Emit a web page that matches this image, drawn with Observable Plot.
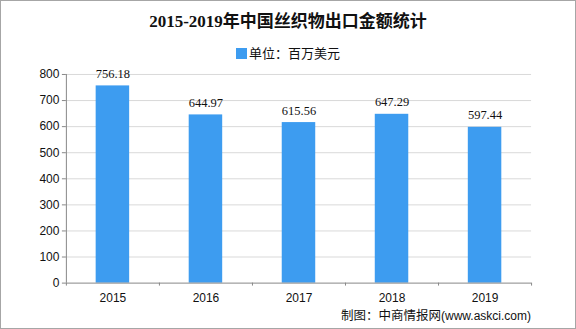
<!DOCTYPE html>
<html>
<head>
<meta charset="utf-8">
<script src="https://cdn.jsdelivr.net/npm/d3@7"></script>
<script src="https://cdn.jsdelivr.net/npm/@observablehq/plot@0.6"></script>
<style>
  html, body { margin: 0; padding: 0; background: #fff; }
  #frame { position: relative; width: 576px; height: 329px; box-sizing: border-box; border: 1px solid #a6a6a6; background: #fff; overflow: hidden; }
  #title { position: absolute; top: 6px; left: 0; width: 574px; text-align: center; font: bold 17px "Liberation Serif", "Noto Sans CJK SC", serif; color: #111; }
  #legend { position: absolute; top: 42px; left: 0; width: 574px; text-align: center; font: 13px "Noto Sans CJK SC", sans-serif; color: #111; }
  #legend .sw { display: inline-block; width: 11px; height: 11px; background: #3d9cf0; vertical-align: -1px; margin-right: 2px; }
  #chart { position: absolute; top: 59px; left: -1px; }
  #caption { position: absolute; top: 304px; right: 44px; font: 12.5px "Noto Sans CJK SC", sans-serif; color: #111; }
  #caption span { font-family: "Liberation Sans", sans-serif; font-size: 12px; }
</style>
</head>
<body>
<div id="frame">
  <div id="title">2015-2019年中国丝织物出口金额统计</div>
  <div id="legend"><span class="sw"></span>单位：百万美元</div>
  <div id="chart"></div>
  <div id="caption">制图：中商情报网<span>(www.askci.com)</span></div>
</div>
<script>
const years = ["2015", "2016", "2017", "2018", "2019"];
const values = [756.18, 644.97, 615.56, 647.29, 597.44];
const yTicks = [0, 100, 200, 300, 400, 500, 600, 700, 800];

const data = years.map((y, i) => ({year: y, i, value: values[i]}));
const barColor = "#3d9cf0";

const chart = Plot.plot({
  width: 576,
  height: 260,
  marginTop: 14,
  marginBottom: 37,
  marginLeft: 66,
  marginRight: 44,
  style: {fontFamily: "Liberation Sans, sans-serif", fontSize: "12px", color: "#111", background: "transparent"},
  x: {domain: [0, years.length], axis: null},
  y: {domain: [0, 800], axis: null},
  marks: [
    Plot.gridY(yTicks.filter(d => d > 0), {stroke: "#d9d9d9", strokeOpacity: 1}),
    Plot.rectY(data, {x1: d => d.i + 0.32, x2: d => d.i + 0.68, y1: 0, y2: "value", fill: barColor}),
    Plot.text(data, {x: d => d.i + 0.5, y: "value", text: d => d.value.toFixed(2), dy: -12, fontFamily: "Liberation Serif, serif", fontSize: 12.5, fill: "#111"}),
    Plot.axisY({ticks: yTicks, tickSize: 4, tickPadding: 3, stroke: "#888", label: null, fontSize: 12}),
    Plot.ruleX([0], {stroke: "#888"}),
    Plot.ruleY([0], {stroke: "#888"}),
    Plot.axisX({ticks: d3.range(years.length + 1), tickFormat: () => "", tickSize: 3, stroke: "#888", label: null}),
    Plot.axisX({ticks: years.map((_, i) => i + 0.5), tickFormat: d => years[Math.round(d - 0.5)], tickSize: 0, tickPadding: 10, label: null, fontSize: 12})
  ]
});
document.getElementById("chart").appendChild(chart);
</script>
</body>
</html>
